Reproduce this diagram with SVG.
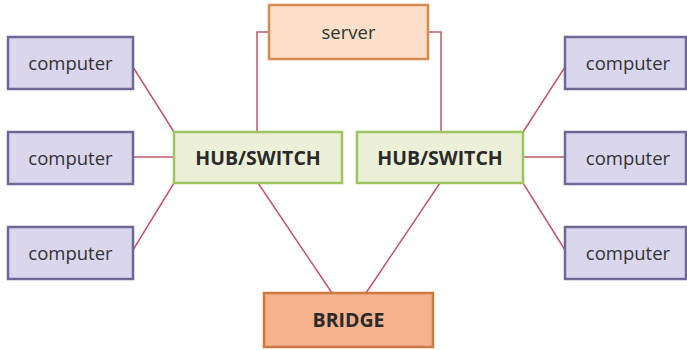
<svg xmlns="http://www.w3.org/2000/svg" width="687" height="350" viewBox="0 0 687 350">
<style>
.comp{fill:#dad6ee;stroke:#6e6896;stroke-width:2.5}
.srv{fill:#fbdfc8;stroke:#d68a4f;stroke-width:2.5}
.hub{fill:#edf0d8;stroke:#9cc460;stroke-width:2.5}
.brg{fill:#f5b28c;stroke:#cc7a42;stroke-width:2.5}
.t{font-family:"Open Sans","Noto Sans",sans-serif;font-size:18.5px;fill:#333;text-anchor:middle}
.b{font-family:"Open Sans","Noto Sans",sans-serif;font-size:19.5px;font-weight:bold;fill:#2a2a2a;text-anchor:middle}
.ln{stroke:#c0596c;stroke-width:1.5;fill:none}
</style>
<rect width="687" height="350" fill="#fff"/>
<g id="connectors">
<polyline class="ln" points="269,32 257,32 257,132"/>
<polyline class="ln" points="428,32 441,32 441,132"/>
<line class="ln" x1="133" y1="67" x2="174" y2="132"/>
<line class="ln" x1="133" y1="157" x2="174" y2="157"/>
<line class="ln" x1="133" y1="250" x2="174" y2="183"/>
<line class="ln" x1="523" y1="132" x2="565" y2="67"/>
<line class="ln" x1="523" y1="157" x2="565" y2="157"/>
<line class="ln" x1="523" y1="183" x2="565" y2="250"/>
<line class="ln" x1="258" y1="183" x2="332" y2="293"/>
<line class="ln" x1="440" y1="183" x2="366" y2="293"/>
</g>
<g id="server"><rect class="srv" x="269" y="5" width="159" height="54"/><text class="t" x="348.5" y="39">server</text></g>
<g id="computer-l1"><rect class="comp" x="8" y="37" width="125" height="52"/><text class="t" x="70.5" y="70">computer</text></g>
<g id="computer-l2"><rect class="comp" x="8" y="132" width="125" height="52"/><text class="t" x="70.5" y="165">computer</text></g>
<g id="computer-l3"><rect class="comp" x="8" y="227" width="125" height="52"/><text class="t" x="70.5" y="260">computer</text></g>
<g id="computer-r1"><rect class="comp" x="565" y="37" width="121" height="52"/><text class="t" x="628" y="70">computer</text></g>
<g id="computer-r2"><rect class="comp" x="565" y="132" width="121" height="52"/><text class="t" x="628" y="165">computer</text></g>
<g id="computer-r3"><rect class="comp" x="565" y="227" width="121" height="52"/><text class="t" x="628" y="260">computer</text></g>
<g id="hub-left"><rect class="hub" x="174" y="132" width="168" height="51"/><text class="b" x="258" y="165">HUB/SWITCH</text></g>
<g id="hub-right"><rect class="hub" x="357" y="132" width="166" height="51"/><text class="b" x="440" y="165">HUB/SWITCH</text></g>
<g id="bridge"><rect class="brg" x="264" y="293" width="169" height="54"/><text class="b" x="348.5" y="327">BRIDGE</text></g>
</svg>
